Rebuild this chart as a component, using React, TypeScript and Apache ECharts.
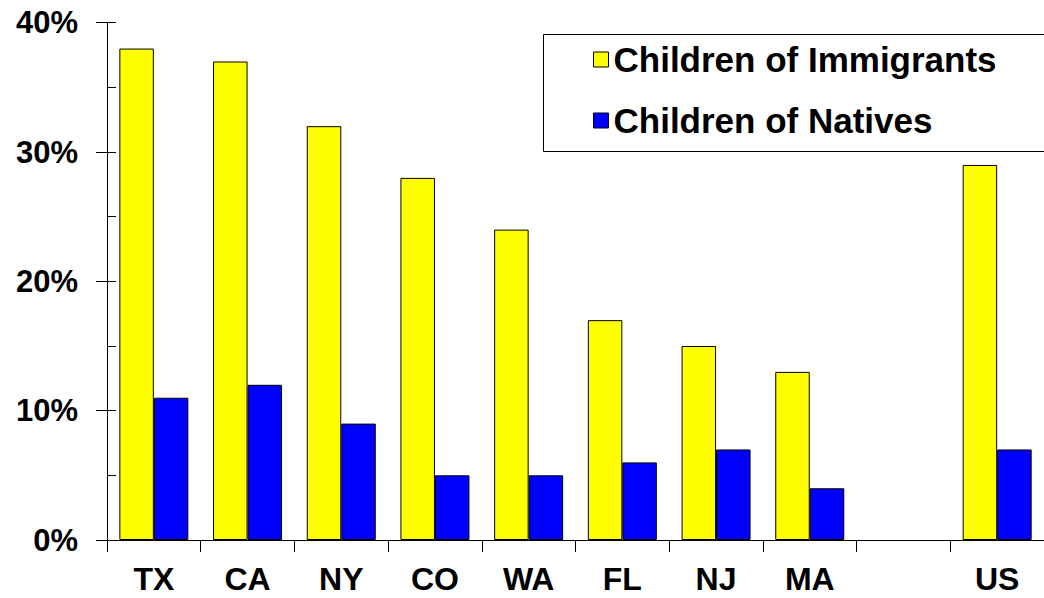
import React, { useEffect, useRef } from "react";
import * as echarts from "echarts";

const categories = ["TX", "CA", "NY", "CO", "WA", "FL", "NJ", "MA", "", "US"];
const immigrants = [38, 37, 32, 28, 24, 17, 15, 13, null, 29];
const natives = [11, 12, 9, 5, 5, 6, 7, 4, null, 7];
const seriesNames = ["Children of Immigrants", "Children of Natives"];

const FONT = "'Liberation Sans', Arial, Helvetica, sans-serif";

export default function App() {
  const ref = useRef<HTMLDivElement>(null);
  useEffect(() => {
    if (!ref.current) return;
    const chart = echarts.init(ref.current, null, { renderer: "svg" });
    chart.setOption({
      animation: false,
      backgroundColor: "#ffffff",
      textStyle: { fontFamily: FONT },
      grid: { left: 107, top: 22.7, width: 941, height: 517.3, containLabel: false },
      legend: {
        orient: "vertical",
        left: 593,
        top: 42,
        itemWidth: 15,
        itemHeight: 15,
        itemGap: 26,
        padding: 0,
        icon: "rect",
        itemStyle: { borderColor: "#000", borderWidth: 1 },
        textStyle: { fontFamily: FONT, fontWeight: "bold", fontSize: 35, color: "#000", lineHeight: 35 },
        data: seriesNames,
      },
      graphic: [
        {
          type: "rect",
          left: 541,
          top: 32,
          shape: { width: 501, height: 117 },
          style: { fill: "none", stroke: "#000", lineWidth: 1 },
          z: 100,
        },
      ],
      xAxis: {
        type: "category",
        data: categories,
        boundaryGap: true,
        axisLine: { show: true, lineStyle: { color: "#000", width: 1 } },
        axisTick: { show: true, length: 12, inside: false, lineStyle: { color: "#000" } },
        axisLabel: {
          interval: 0,
          margin: 23,
          lineHeight: 32,
          fontFamily: FONT,
          fontWeight: "bold",
          fontSize: 32,
          color: "#000",
        },
        splitLine: { show: false },
      },
      yAxis: [
        {
          type: "value",
          min: 0,
          max: 40,
          interval: 10,
          axisLine: { show: true, lineStyle: { color: "#000", width: 1 } },
          axisTick: { show: true, length: 11, inside: false, lineStyle: { color: "#000" } },
          axisLabel: {
            formatter: "{value}%",
            margin: 29,
            fontFamily: FONT,
            fontWeight: "bold",
            fontSize: 31,
            color: "#000",
            padding: [4, 0, 0, 0],
          },
          splitLine: { show: false },
        },
        {
          type: "value",
          min: 0,
          max: 40,
          interval: 5,
          position: "left",
          offset: 0,
          axisLine: { show: true, lineStyle: { color: "#000", width: 1 } },
          axisTick: { show: true, length: 9, inside: true, lineStyle: { color: "#000" } },
          axisLabel: { show: false },
          splitLine: { show: false },
        },
      ],
      series: [
        {
          name: seriesNames[0],
          type: "bar",
          data: immigrants,
          barWidth: 34.5,
          barGap: "0%",
          itemStyle: { color: "#FFFF00", borderColor: "#000", borderWidth: 1 },
        },
        {
          name: seriesNames[1],
          type: "bar",
          data: natives,
          barWidth: 34.5,
          barGap: "0%",
          itemStyle: { color: "#0000FF", borderColor: "#000", borderWidth: 1 },
        },
      ],
    });
    return () => chart.dispose();
  }, []);
  return (
    <div
      ref={ref}
      style={{ position: "absolute", left: 0, top: 0, width: 1044, height: 598 }}
    />
  );
}
